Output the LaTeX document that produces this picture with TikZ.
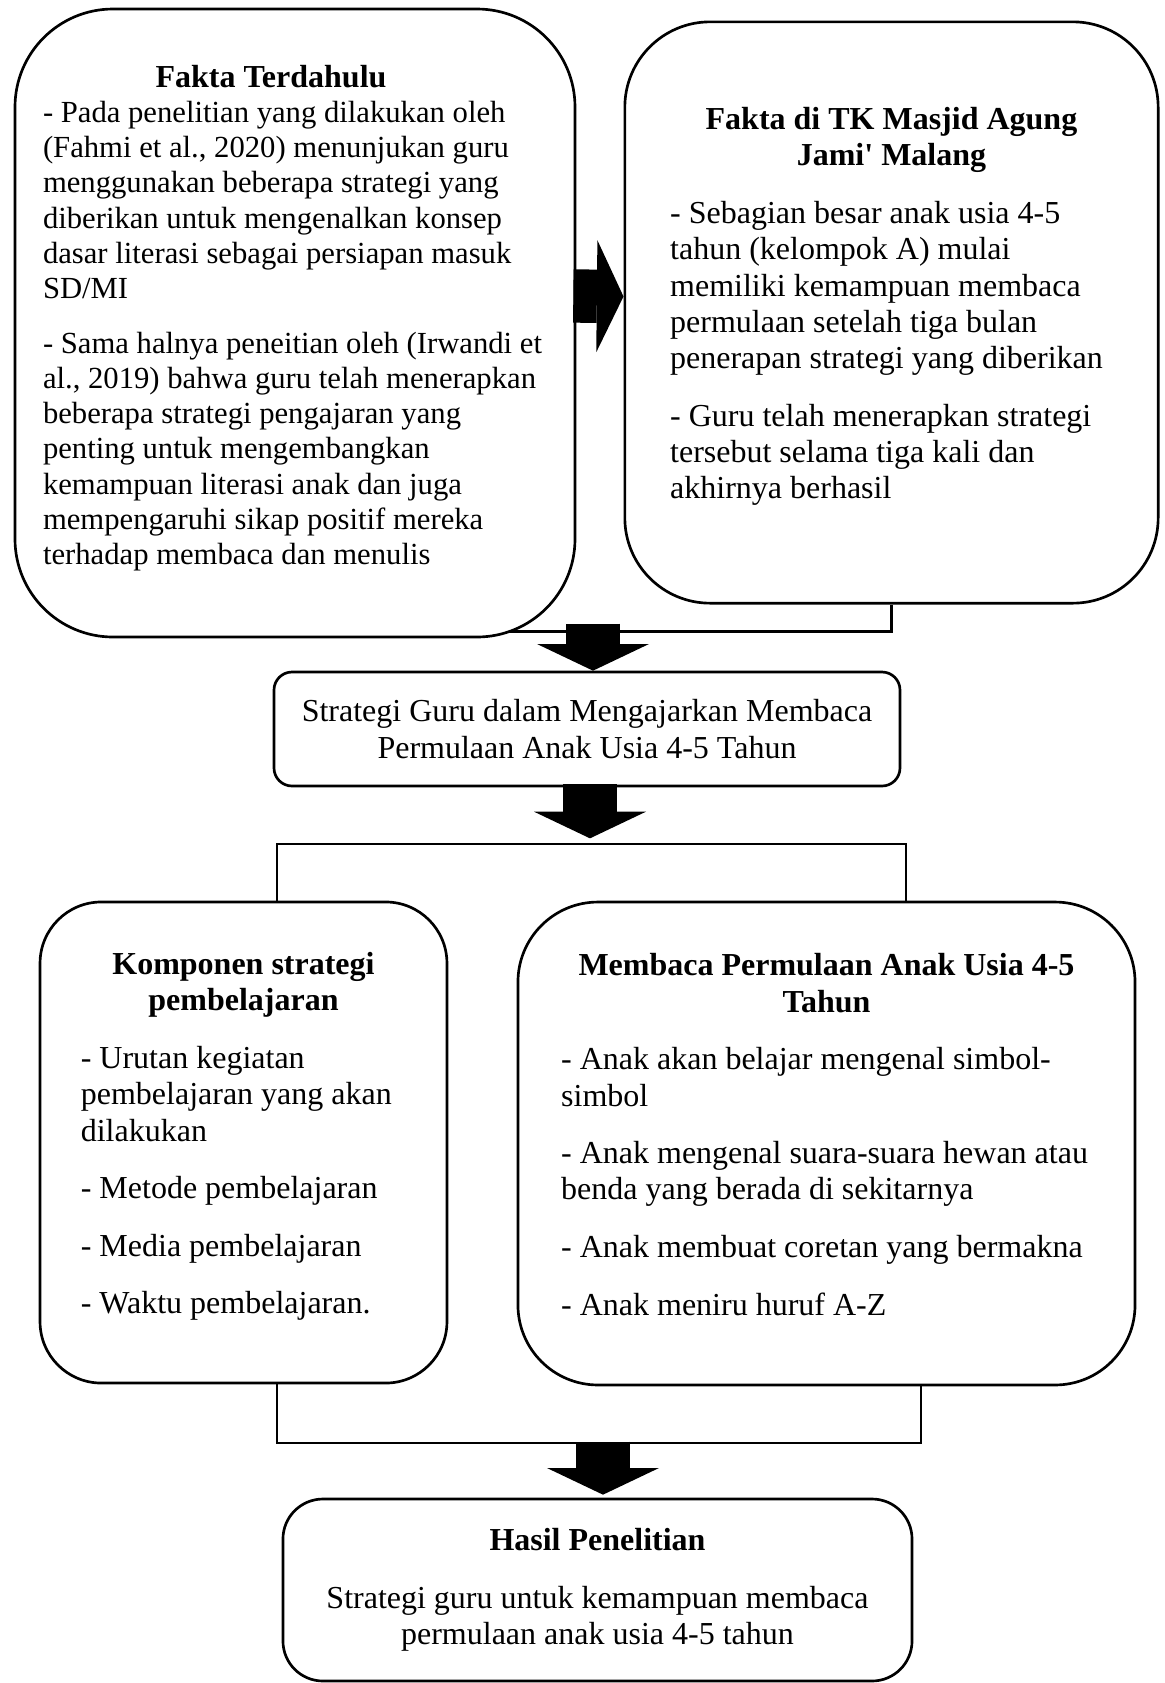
\documentclass[tikz,border=0pt]{standalone}
\usepackage{fontspec}
\setmainfont{Liberation Serif}
\usepackage{tikz}
\usetikzlibrary{positioning,calc,arrows.meta,backgrounds}

\begin{document}
\begin{tikzpicture}[
    x=0.375pt, y=-0.375pt,
    box/.style={rectangle, draw=black, line width=1pt, fill=white, inner sep=0pt, font=\fontsize{12pt}{13.6pt}\selectfont},
    box_text/.style={box, align=left, execute at begin node={\spaceskip=0pt\xspaceskip=0pt\relax}},
    box_center/.style={box, align=center},
    link/.style={draw=black, line width=1pt},
    bigarrow/.style={line width=20pt, -{Triangle[length=10pt 0 0, width=42pt 0 0, line width=0pt]}},
]
\useasboundingbox (0,0) rectangle (1165,1683);
% Row 1 (two facts)
\node[box_text, rounded corners=36.75pt, minimum width=210pt, minimum height=235.5pt, text width=189pt] (fakta) at (295,323) {{\centering\bfseries Fakta Terdahulu\hspace*{18pt}\par}
\fontsize{11.5pt}{13.2pt}\selectfont\spaceskip=0pt\xspaceskip=0pt
- Pada penelitian yang dilakukan oleh\\
(Fahmi et al., 2020) menunjukan guru\\
menggunakan beberapa strategi yang\\
diberikan untuk mengenalkan konsep\\
dasar literasi sebagai persiapan masuk\\
SD/MI\\[7.4pt]
- Sama halnya peneitian oleh (Irwandi et\\
al., 2019) bahwa guru telah menerapkan\\
beberapa strategi pengajaran yang\\
penting untuk mengembangkan\\
kemampuan literasi anak dan juga\\
mempengaruhi sikap positif mereka\\
terhadap membaca dan menulis\par\vspace{3.7pt}\hrule height 0pt width 0pt};
\node[box_text, rounded corners=32pt, minimum width=200pt, minimum height=218pt, text width=166pt] (tk) at (891.5,312.5) {{\centering\bfseries Fakta di TK Masjid Agung\\Jami\textquotesingle{} Malang\par}
\vspace{8pt}
- Sebagian besar anak usia 4-5\\
tahun (kelompok A) mulai\\
memiliki kemampuan membaca\\
permulaan setelah tiga bulan\\
penerapan strategi yang diberikan\\[8pt]
- Guru telah menerapkan strategi\\
tersebut selama tiga kali dan\\
akhirnya berhasil\par\vspace{4.5pt}\hrule height 0pt width 0pt};
% Row 2
\node[box_center, rounded corners=6.75pt, minimum width=234.75pt, minimum height=42.75pt] (strat) at (587,729) {Strategi Guru dalam Mengajarkan Membaca\\Permulaan Anak Usia 4-5 Tahun};
% Row 3 (two groups)
\node[box_text, rounded corners=23pt, minimum width=152.6pt, minimum height=180.4pt, text width=122pt] (komp) at (243.5,1142.5) {{\centering\bfseries Komponen strategi\\pembelajaran\par}
\vspace{8pt}
- Urutan kegiatan\\
pembelajaran yang akan\\
dilakukan\\[8pt]
- Metode pembelajaran\\[8pt]
- Media pembelajaran\\[8pt]
- Waktu pembelajaran.\par\vspace{4.5pt}\hrule height 0pt width 0pt};
\node[box_text, rounded corners=30pt, minimum width=231.4pt, minimum height=181.1pt, text width=199pt] (baca) at (826.5,1143.5) {{\centering\bfseries Membaca Permulaan Anak Usia 4-5\\Tahun\par}
\vspace{8pt}
- Anak akan belajar mengenal simbol-\\
simbol\\[8pt]
- Anak mengenal suara-suara hewan atau\\
benda yang berada di sekitarnya\\[8pt]
- Anak membuat coretan yang bermakna\\[8pt]
- Anak meniru huruf A-Z\par\vspace{6.7pt}\hrule height 0pt width 0pt};
% Row 4
\node[box_center, rounded corners=15pt, minimum width=235.9pt, minimum height=68.25pt] (hasil) at (597.5,1590) {{\bfseries Hasil Penelitian}\\[8pt]
Strategi guru untuk kemampuan membaca\\
permulaan anak usia 4-5 tahun};
% junctions
\coordinate (splitl) at (277,844);
\coordinate (splitr) at (906,844);
\coordinate (mergel) at (277,1443);
\coordinate (merger) at (921,1443);
% connectors
\begin{scope}[on background layer]
\draw[link] (tk.south) |- ($(fakta.south)+(0,-7)$);
\end{scope}
\draw[link] (komp.north -| splitl) -- (splitl) -- (splitr) -- (baca.north -| splitr);
\draw[link] (komp.south -| mergel) -- (mergel) -- (merger) -- (baca.south -| merger);
\draw[bigarrow] ($(fakta.east)+(-3,-27)$) -- ($(tk.west)+(0,-16)$);
\draw[bigarrow] ($(strat.north)+(6,-47)$) -- ($(strat.north)+(6,0)$);
\draw[bigarrow] ($(strat.south)+(3,-3)$) -- ($(strat.south)+(3,51)$);
\draw[bigarrow] ($(hasil.north)+(5.5,-56)$) -- ($(hasil.north)+(5.5,-3)$);
\end{tikzpicture}
\end{document}
